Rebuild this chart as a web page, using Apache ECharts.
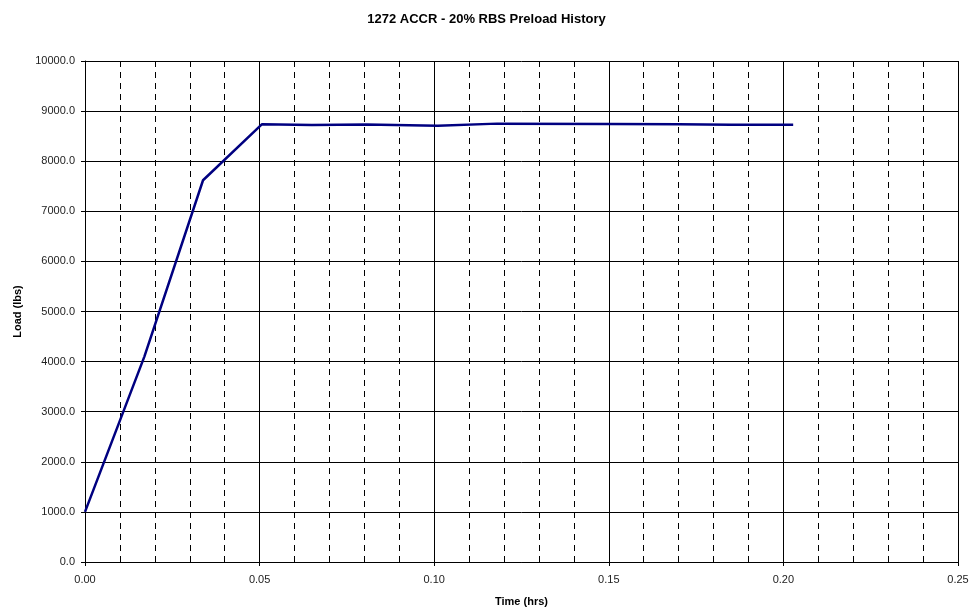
<!DOCTYPE html>
<html>

<head>
	<meta charset="UTF-8">
	<title>1272 ACCR - 20% RBS Preload History</title>
	<style>
		html, body {
			margin: 0;
			padding: 0;
			background: #fff;
		}
		#chart1 {
			width: 973px;
			height: 613px;
		}
	</style>
	<script src="https://cdn.jsdelivr.net/npm/echarts@6/dist/echarts.min.js"></script>
</head>

<body>
	<div id="chart1"></div>
	<script>
		// time (hrs) and load (lbs)
		var timeHrs = [0.000, 0.017, 0.0338, 0.0507, 0.065, 0.0805, 0.101, 0.118, 0.150, 0.170, 0.185, 0.2028];
		var loadLbs = [1000, 4100, 7620, 8740, 8725, 8735, 8710, 8750, 8745, 8740, 8728, 8728];

		var data1 = [];
		for (var i = 0; i < timeHrs.length; i++) {
			data1.push([timeHrs[i], loadLbs[i]]);
		}

		var myChart = echarts.init(document.getElementById('chart1'));
		myChart.setOption({
			animation: false,
			title: {
				text: '1272 ACCR - 20% RBS Preload History',
				left: 'center',
				top: 8,
				textStyle: {
					fontFamily: 'Liberation Sans',
					fontSize: 13,
					fontWeight: 'bold',
					color: '#000'
				}
			},
			grid: {
				left: 85,
				right: 15,
				top: 61,
				bottom: 51
			},
			xAxis: {
				type: 'value',
				min: 0,
				max: 0.25,
				interval: 0.05,
				name: 'Time (hrs)',
				nameLocation: 'middle',
				nameGap: 34,
				nameTextStyle: {
					fontFamily: 'Liberation Sans',
					fontSize: 11,
					fontWeight: 'bold',
					color: '#000'
				},
				axisLine: { lineStyle: { color: '#000', width: 1 } },
				axisTick: { show: true, length: 4, lineStyle: { color: '#000' } },
				axisLabel: {
					fontFamily: 'Liberation Sans',
					fontSize: 11,
					color: '#222',
					margin: 12,
					formatter: function (v) { return v.toFixed(2); }
				},
				splitLine: { show: true, lineStyle: { color: '#000', width: 1 } },
				minorTick: { show: false, splitNumber: 5 },
				minorSplitLine: { show: true, lineStyle: { color: '#000', width: 1, type: [6, 5] } }
			},
			yAxis: {
				type: 'value',
				min: 0,
				max: 10000,
				interval: 1000,
				name: 'Load (lbs)',
				nameLocation: 'middle',
				nameGap: 62,
				nameTextStyle: {
					fontFamily: 'Liberation Sans',
					fontSize: 11,
					fontWeight: 'bold',
					color: '#000'
				},
				axisLine: { show: true, lineStyle: { color: '#000', width: 1 } },
				axisTick: { show: true, length: 4, lineStyle: { color: '#000' } },
				axisLabel: {
					fontFamily: 'Liberation Sans',
					fontSize: 11,
					color: '#222',
					margin: 10,
					formatter: function (v) { return v.toFixed(1); }
				},
				splitLine: { show: true, lineStyle: { color: '#000', width: 1 } }
			},
			series: [
				{
					name: 'Load',
					type: 'line',
					data: data1,
					showSymbol: false,
					lineStyle: { color: '#000080', width: 2.5 }
				}
			]
		});
	</script>
</body>

</html>
